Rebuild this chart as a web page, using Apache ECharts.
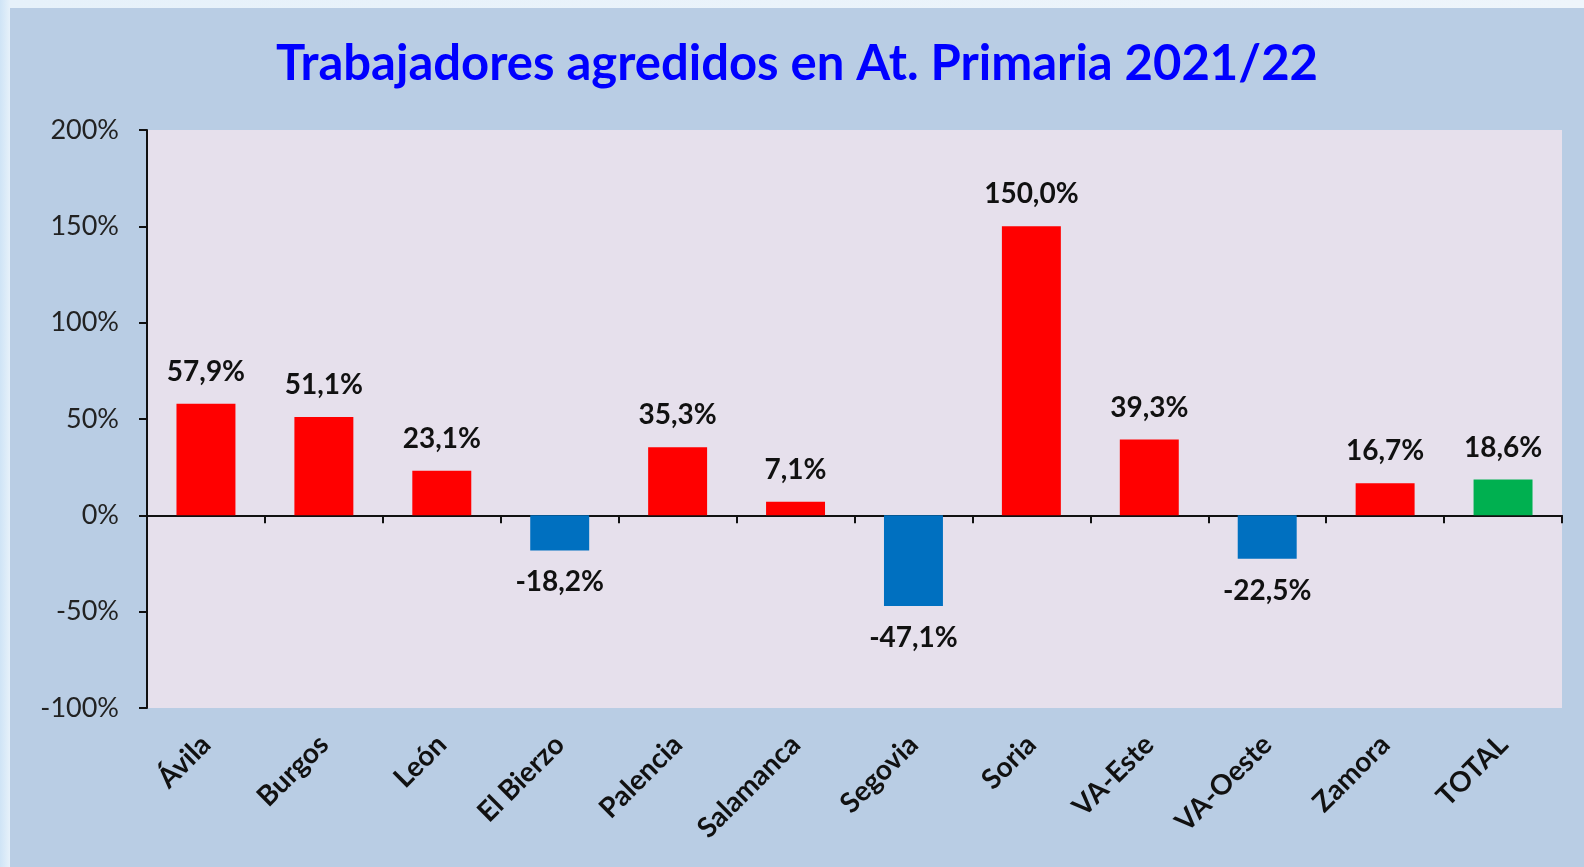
<!DOCTYPE html>
<html>
<head>
<meta charset="utf-8">
<title>Trabajadores agredidos en At. Primaria 2021/22</title>
<script src="https://cdn.jsdelivr.net/npm/echarts@6/dist/echarts.min.js"></script>
<style>
  html, body { margin: 0; padding: 0; }
  body {
    width: 1584px; height: 867px; overflow: hidden; position: relative;
    background: linear-gradient(90deg, #cfe4f6 0px, #e6f1fa 10px, #eef5fb 100%);
  }
  #chart {
    position: absolute; left: 10px; top: 8px;
    width: 1574px; height: 859px;
    background: #b9cde4;
  }
</style>
</head>
<body>
<div id="chart"></div>
<script>
// datos del gráfico
const categories = ['Ávila', 'Burgos', 'León', 'El Bierzo', 'Palencia', 'Salamanca', 'Segovia', 'Soria', 'VA-Este', 'VA-Oeste', 'Zamora', 'TOTAL'];
const values = [57.9, 51.1, 23.1, -18.2, 35.3, 7.1, -47.1, 150.0, 39.3, -22.5, 16.7, 18.6];
const yTicks = [-100, -50, 0, 50, 100, 150, 200];

// colores: rojo si sube, azul si baja, verde para el total
const colorUp = '#ff0000';
const colorDown = '#0070c0';
const colorTotal = '#00b050';

const font = 'Lato, "Open Sans", sans-serif';

const chart = echarts.init(document.getElementById('chart'), null, {renderer: 'canvas'});

const barData = values.map((v, i) => ({
  value: v,
  itemStyle: {color: categories[i] === 'TOTAL' ? colorTotal : (v < 0 ? colorDown : colorUp)},
  label: {position: v < 0 ? 'bottom' : 'top'}
}));

chart.setOption({
  animation: false,
  textStyle: {fontFamily: font},
  title: {
    text: 'Trabajadores agredidos en At. Primaria 2021/22',
    left: 'center',
    top: 27,
    textStyle: {color: '#0000ff', fontSize: 49, fontWeight: 'bold', fontFamily: font}
  },
  grid: {
    left: 137,
    top: 122,
    right: 22,
    bottom: 159,
    show: true,
    backgroundColor: '#e6e0ec',
    borderWidth: 0
  },
  xAxis: [
    {
      // etiquetas abajo del área de trazado
      type: 'category',
      data: categories,
      position: 'bottom',
      axisLine: {show: false, onZero: false},
      axisTick: {show: false},
      axisLabel: {
        rotate: 45,
        margin: 32,
        color: '#111',
        fontSize: 28,
        fontWeight: 'bold',
        fontFamily: font
      }
    },
    {
      // eje en el cero con marcas
      type: 'category',
      data: categories,
      position: 'bottom',
      axisLine: {show: true, onZero: true, lineStyle: {color: '#111', width: 2}},
      axisTick: {show: true, length: 8, lineStyle: {color: '#111', width: 2}},
      axisLabel: {show: false}
    }
  ],
  yAxis: {
    type: 'value',
    min: yTicks[0],
    max: yTicks[yTicks.length - 1],
    interval: 50,
    axisLine: {show: true, lineStyle: {color: '#111', width: 2}},
    axisTick: {show: true, length: 8, lineStyle: {color: '#111', width: 2}},
    splitLine: {show: false},
    axisLabel: {
      margin: 28,
      color: '#222',
      fontSize: 27,
      fontFamily: font,
      formatter: '{value}%'
    }
  },
  series: [{
    type: 'bar',
    xAxisIndex: 0,
    data: barData,
    barWidth: '50%',
    label: {
      show: true,
      distance: 18,
      color: '#111',
      fontSize: 28,
      fontWeight: 'bold',
      fontFamily: font,
      formatter: p => p.value.toFixed(1).replace('.', ',') + '%'
    }
  }]
});

window.addEventListener('resize', () => chart.resize());
</script>
</body>
</html>
